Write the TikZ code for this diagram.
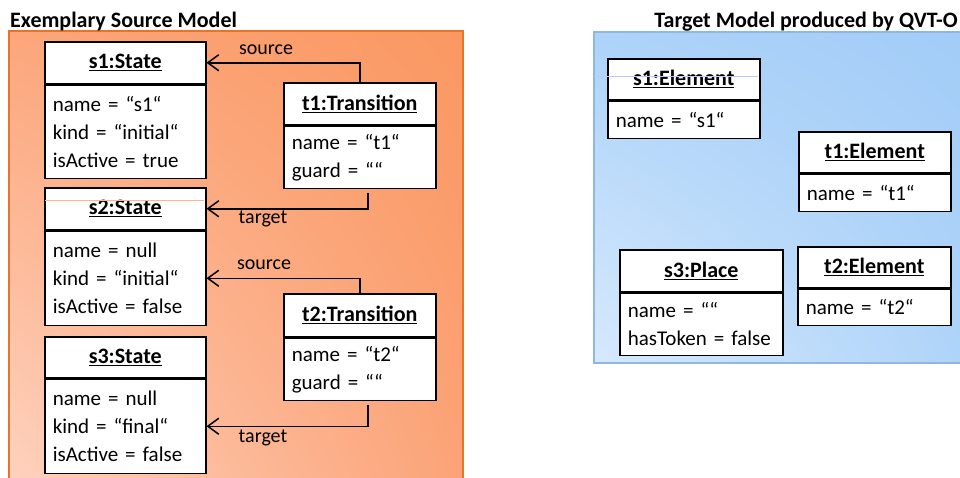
\documentclass[tikz,border=0pt]{standalone}
\usepackage{fontspec}
\setmainfont{Carlito}
\usetikzlibrary{arrows.meta,shadings}

\definecolor{srcEdge}{HTML}{E8742A}
\definecolor{srcUL}{HTML}{FCA67B}
\definecolor{srcUR}{HTML}{FA9862}
\definecolor{srcLL}{HTML}{FED2BE}
\definecolor{srcLR}{HTML}{FBA377}
\definecolor{tgtEdge}{HTML}{8FB6E4}
\definecolor{tgtUL}{HTML}{ADD3F9}
\definecolor{tgtUR}{HTML}{A2CCF7}
\definecolor{tgtLL}{HTML}{D6E9FC}
\definecolor{tgtLR}{HTML}{AFD4F9}

\tikzset{
  every node/.style={font=\fontsize{21}{28}\selectfont},
  hdr/.style 2 args={draw=black, line width=1.5pt, fill=white, anchor=north west,
    minimum width=#1, minimum height=#2, inner sep=0pt,
    font=\fontsize{22}{28}\selectfont\bfseries},
  body/.style 2 args={draw=black, line width=1.5pt, fill=white, anchor=north west,
    text width=#1, minimum height=#2, inner xsep=8pt, inner ysep=0pt, align=left},
  link/.style={line width=1.5pt, -{Straight Barb[length=11pt,width=16pt,line width=1.5pt]}},
  role/.style={inner sep=0pt, font=\fontsize{20}{24}\selectfont},
  title/.style={inner sep=0pt, font=\fontsize{22}{24}\selectfont\bfseries},
}

\begin{document}
\begin{tikzpicture}[x=1pt, y=-1pt]
\useasboundingbox (0,0) rectangle (960,477);

% panels
\shade[upper left=srcUL, upper right=srcUR, lower left=srcLL, lower right=srcLR]
  (9,31) rectangle (463,480);
\draw[srcEdge, line width=1.8pt] (463,480) -- (463,31) -- (9,31) -- (9,480);
\shade[upper left=tgtUL, upper right=tgtUR, lower left=tgtLL, lower right=tgtLR]
  (594,32) rectangle (962,363);
\draw[tgtEdge, line width=1.8pt] (962,363) -- (594,363) -- (594,32) -- (962,32);

\node[title, anchor=base west] (ttl1) at (10,27) {Exemplary Source Model};
\node[title, anchor=base east] (ttl2) at (958,27) {Target Model produced by QVT-O};

% source model objects
\node[hdr={161pt}{42pt}] (s1h) at (44,41) {\underline{s1:State}};
\node[body={145pt}{93pt}] (s1b) at (s1h.south west) {name = “s1“\\kind = “initial“\\isActive = true};

\node[hdr={161pt}{42pt}] (s2h) at (44,187) {\underline{s2:State}};
\draw[srcUR!70, line width=0.6pt] (44.8,200) -- (204.2,200);
\node[body={145pt}{94pt}] (s2b) at (s2h.south west) {name = null\\kind = “initial“\\isActive = false};

\node[hdr={161pt}{41pt}] (s3h) at (44,336) {\underline{s3:State}};
\node[body={145pt}{94pt}] (s3b) at (s3h.south west) {name = null\\kind = “final“\\isActive = false};

\node[hdr={152pt}{42pt}] (t1h) at (283,82) {\underline{t1:Transition}};
\node[body={136pt}{62pt}] (t1b) at (t1h.south west) {name = “t1“\\guard = ““};

\node[hdr={152pt}{43pt}] (t2h) at (283,293) {\underline{t2:Transition}};
\node[body={136pt}{62pt}] (t2b) at (t2h.south west) {name = “t2“\\guard = ““};

% links
\coordinate (t1out) at ([xshift=8pt, yshift=-4pt]t1b.south);
\coordinate (t2out) at ([xshift=8pt, yshift=-4pt]t2b.south);
\draw[link] (t1h.north) |- (s1h.east);
\draw[link] (t1out) |- (s2h.east);
\draw[link] (t2h.north) |- (s2b.east);
\draw[link] (t2out) |- (s3b.east);

\node[role] (r1) at (266,50) {source};
\node[role] (r2) at (263,219) {target};
\node[role] (r3) at (264,265) {source};
\node[role] (r4) at (263,438) {target};

% target model objects
\node[hdr={152pt}{41pt}] (e1h) at (607,58) {\underline{s1:Element}};
\node[body={136pt}{37pt}] (e1b) at (e1h.south west) {name = “s1“};
\draw[tgtUL!80!blue!60, line width=0.5pt] (594,76) -- (758.2,76);

\node[hdr={152pt}{41pt}] (e2h) at (798,131) {\underline{t1:Element}};
\node[body={136pt}{37pt}] (e2b) at (e2h.south west) {name = “t1“};

\node[hdr={163pt}{42pt}] (p3h) at (619,249) {\underline{s3:Place}};
\node[body={147pt}{62pt}] (p3b) at (p3h.south west) {name = ““\\hasToken = false};

\node[hdr={153pt}{41pt}] (e4h) at (797,246) {\underline{t2:Element}};
\node[body={137pt}{36pt}] (e4b) at (e4h.south west) {name = “t2“};
\end{tikzpicture}
\end{document}
